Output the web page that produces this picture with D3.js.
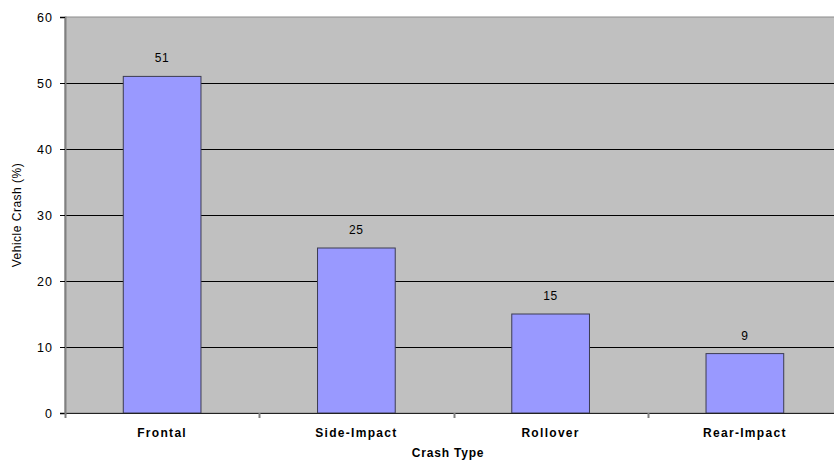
<!DOCTYPE html>
<html>
<head>
<meta charset="utf-8">
<script src="https://cdn.jsdelivr.net/npm/d3@7"></script>
<style>
  html, body { margin: 0; padding: 0; background: #fff; }
  svg { display: block; font-family: Arial, "Liberation Sans", sans-serif; }
</style>
</head>
<body>
<svg id="chart" width="834" height="462"></svg>
<script>
// Share of vehicle crashes by crash type
const categories = ["Frontal", "Side-Impact", "Rollover", "Rear-Impact"];
const values = [51, 25, 15, 9];
const yTicks = [0, 10, 20, 30, 40, 50, 60];

const svg = d3.select("#chart");
const plot = { left: 65, right: 842, top: 17, bottom: 413 };

const x = d3.scaleBand().domain(categories).range([plot.left, plot.right]).padding(0);
const y = d3.scaleLinear().domain([0, 60]).range([plot.bottom, plot.top]);
const barW = x.bandwidth() * 0.4;

// plot background
svg.append("rect")
  .attr("x", plot.left).attr("y", plot.top)
  .attr("width", plot.right - plot.left).attr("height", plot.bottom - plot.top)
  .attr("fill", "#c0c0c0")
  .attr("stroke", "#8c8c8c").attr("stroke-width", 1);

// horizontal gridlines
svg.append("g")
  .selectAll("line")
  .data(yTicks.filter(d => d > 0 && d < 60))
  .join("line")
  .attr("x1", plot.left).attr("x2", plot.right)
  .attr("y1", d => Math.round(y(d)) + 0.5).attr("y2", d => Math.round(y(d)) + 0.5)
  .attr("stroke", "#000").attr("stroke-width", 1);

// bars
svg.append("g")
  .selectAll("rect")
  .data(values)
  .join("rect")
  .attr("x", (d, i) => x(categories[i]) + (x.bandwidth() - barW) / 2)
  .attr("y", d => y(d))
  .attr("width", barW)
  .attr("height", d => y(0) - y(d))
  .attr("fill", "#9999ff")
  .attr("stroke", "#3c3c50").attr("stroke-width", 1);

// value labels
svg.append("g")
  .selectAll("text")
  .data(values)
  .join("text")
  .attr("x", (d, i) => x(categories[i]) + x.bandwidth() / 2)
  .attr("y", d => y(d) - 14)
  .attr("text-anchor", "middle")
  .attr("font-size", 12)
  .attr("letter-spacing", 0.8)
  .attr("fill", "#000")
  .text(d => d);

// y axis
const yAxis = svg.append("g")
  .attr("transform", `translate(${plot.left},0)`)
  .call(d3.axisLeft(y).tickValues(yTicks).tickSize(5).tickPadding(7).tickFormat(d3.format("d")));
yAxis.select(".domain").attr("stroke", "#808080").attr("stroke-width", 2);
yAxis.selectAll(".tick line").attr("stroke", "#000");
yAxis.selectAll(".tick text").attr("font-size", 12.5).attr("fill", "#000")
  .attr("letter-spacing", 1)
  .attr("font-family", "Arial, 'Liberation Sans', sans-serif");

// x axis baseline and ticks at category boundaries
svg.append("line")
  .attr("x1", plot.left).attr("x2", plot.right)
  .attr("y1", plot.bottom + 0.5).attr("y2", plot.bottom + 0.5)
  .attr("stroke", "#222").attr("stroke-width", 1.2);
svg.append("g")
  .selectAll("line")
  .data(categories)
  .join("line")
  .attr("x1", d => Math.round(x(d)) + 0.5).attr("x2", d => Math.round(x(d)) + 0.5)
  .attr("y1", plot.bottom).attr("y2", plot.bottom + 5)
  .attr("stroke", "#808080").attr("stroke-width", 2);

// category labels
svg.append("g")
  .selectAll("text")
  .data(categories)
  .join("text")
  .attr("x", d => x(d) + x.bandwidth() / 2)
  .attr("y", 437)
  .attr("text-anchor", "middle")
  .attr("font-size", 12)
  .attr("font-weight", "bold")
  .attr("letter-spacing", 1.3)
  .attr("fill", "#000")
  .text(d => d);

// axis titles
svg.append("text")
  .attr("x", 448).attr("y", 457)
  .attr("text-anchor", "middle")
  .attr("font-size", 12).attr("font-weight", "bold")
  .attr("letter-spacing", 0.8)
  .text("Crash Type");

svg.append("text")
  .attr("transform", "translate(21,215) rotate(-90)")
  .attr("text-anchor", "middle")
  .attr("font-size", 12)
  .attr("letter-spacing", 0.5)
  .text("Vehicle Crash (%)");
</script>
</body>
</html>
